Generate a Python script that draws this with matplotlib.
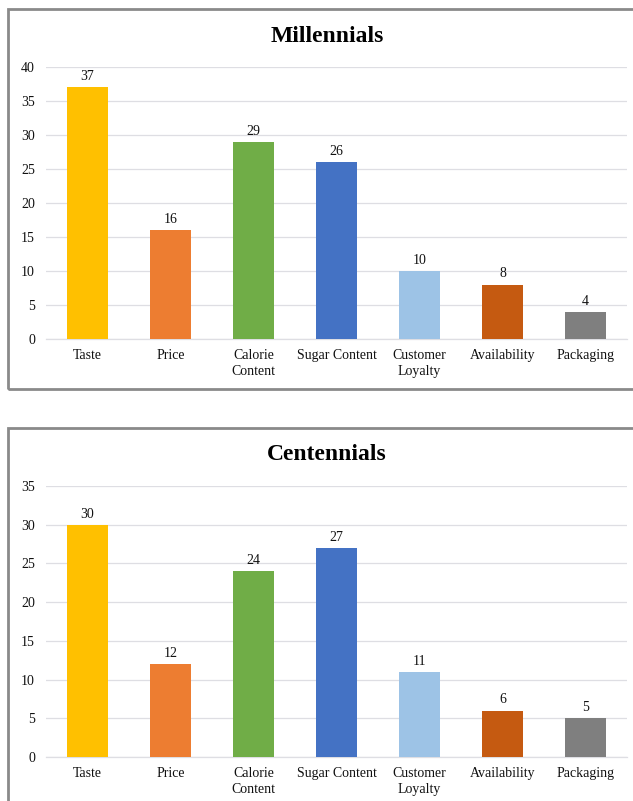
import matplotlib
matplotlib.use("Agg")
import matplotlib.pyplot as plt
from matplotlib.patches import Rectangle

categories = ["Taste", "Price", "Calorie\nContent", "Sugar Content", "Customer\nLoyalty", "Availability", "Packaging"]
millennials = [37, 16, 29, 26, 10, 8, 4]
centennials = [30, 12, 24, 27, 11, 6, 5]
colors = ["#FFC000", "#ED7D31", "#70AD47", "#4472C4", "#9DC3E6", "#C55A11", "#7F7F7F"]

plt.rcParams['font.family'] = ['Liberation Serif', 'DejaVu Serif']

W, H = 633, 801
fig = plt.figure(figsize=(W / 100, H / 100), dpi=100)

def fx(px):
    return px / W

def fy(py):
    return 1 - py / H

# panel borders
for (top, bottom) in [(9, 389), (428, 830)]:
    fig.patches.append(Rectangle((fx(8), fy(bottom)), fx(660) - fx(8), fy(top) - fy(bottom),
                                 transform=fig.transFigure, fill=False, edgecolor='#8a8a8a',
                                 linewidth=2.0, zorder=0))

def panel(title, values, ax_top, ax_bottom, ymax, title_y):
    ax = fig.add_axes([fx(46), fy(ax_bottom), fx(627) - fx(46), fy(ax_top) - fy(ax_bottom)])
    x = list(range(len(categories)))
    bars = ax.bar(x, values, width=0.5, color=colors, zorder=3)
    ax.set_xlim(-0.5, len(categories) - 0.5)
    ax.set_ylim(0, ymax)
    ax.set_yticks(range(0, ymax + 1, 5))
    ax.yaxis.grid(True, color='#dedee3', linewidth=0.9, zorder=0)
    ax.set_axisbelow(True)
    for s in ['top', 'right', 'left']:
        ax.spines[s].set_visible(False)
    ax.spines['bottom'].set_color('#dedee3')
    ax.spines['bottom'].set_linewidth(0.9)
    ax.tick_params(axis='both', length=0, labelsize=10, colors='#111111')
    ax.tick_params(axis='y', pad=8)
    ax.tick_params(axis='x', pad=7.5)
    ax.set_xticks(x)
    ax.set_xticklabels(categories, linespacing=1.25)
    for b, v in zip(bars, values):
        ax.annotate(str(v), (b.get_x() + b.get_width() / 2, v), xytext=(0, 3),
                    textcoords='offset points', ha='center', va='bottom', fontsize=10,
                    color='#111111')
    fig.text(fx(327), fy(title_y), title, ha='center', va='center', fontsize=17,
             fontweight='bold', color='black')
    return ax

panel("Millennials", millennials, 67, 339, 40, 36)
panel("Centennials", centennials, 486, 757, 35, 454)

fig.savefig("out.png", dpi=100)
